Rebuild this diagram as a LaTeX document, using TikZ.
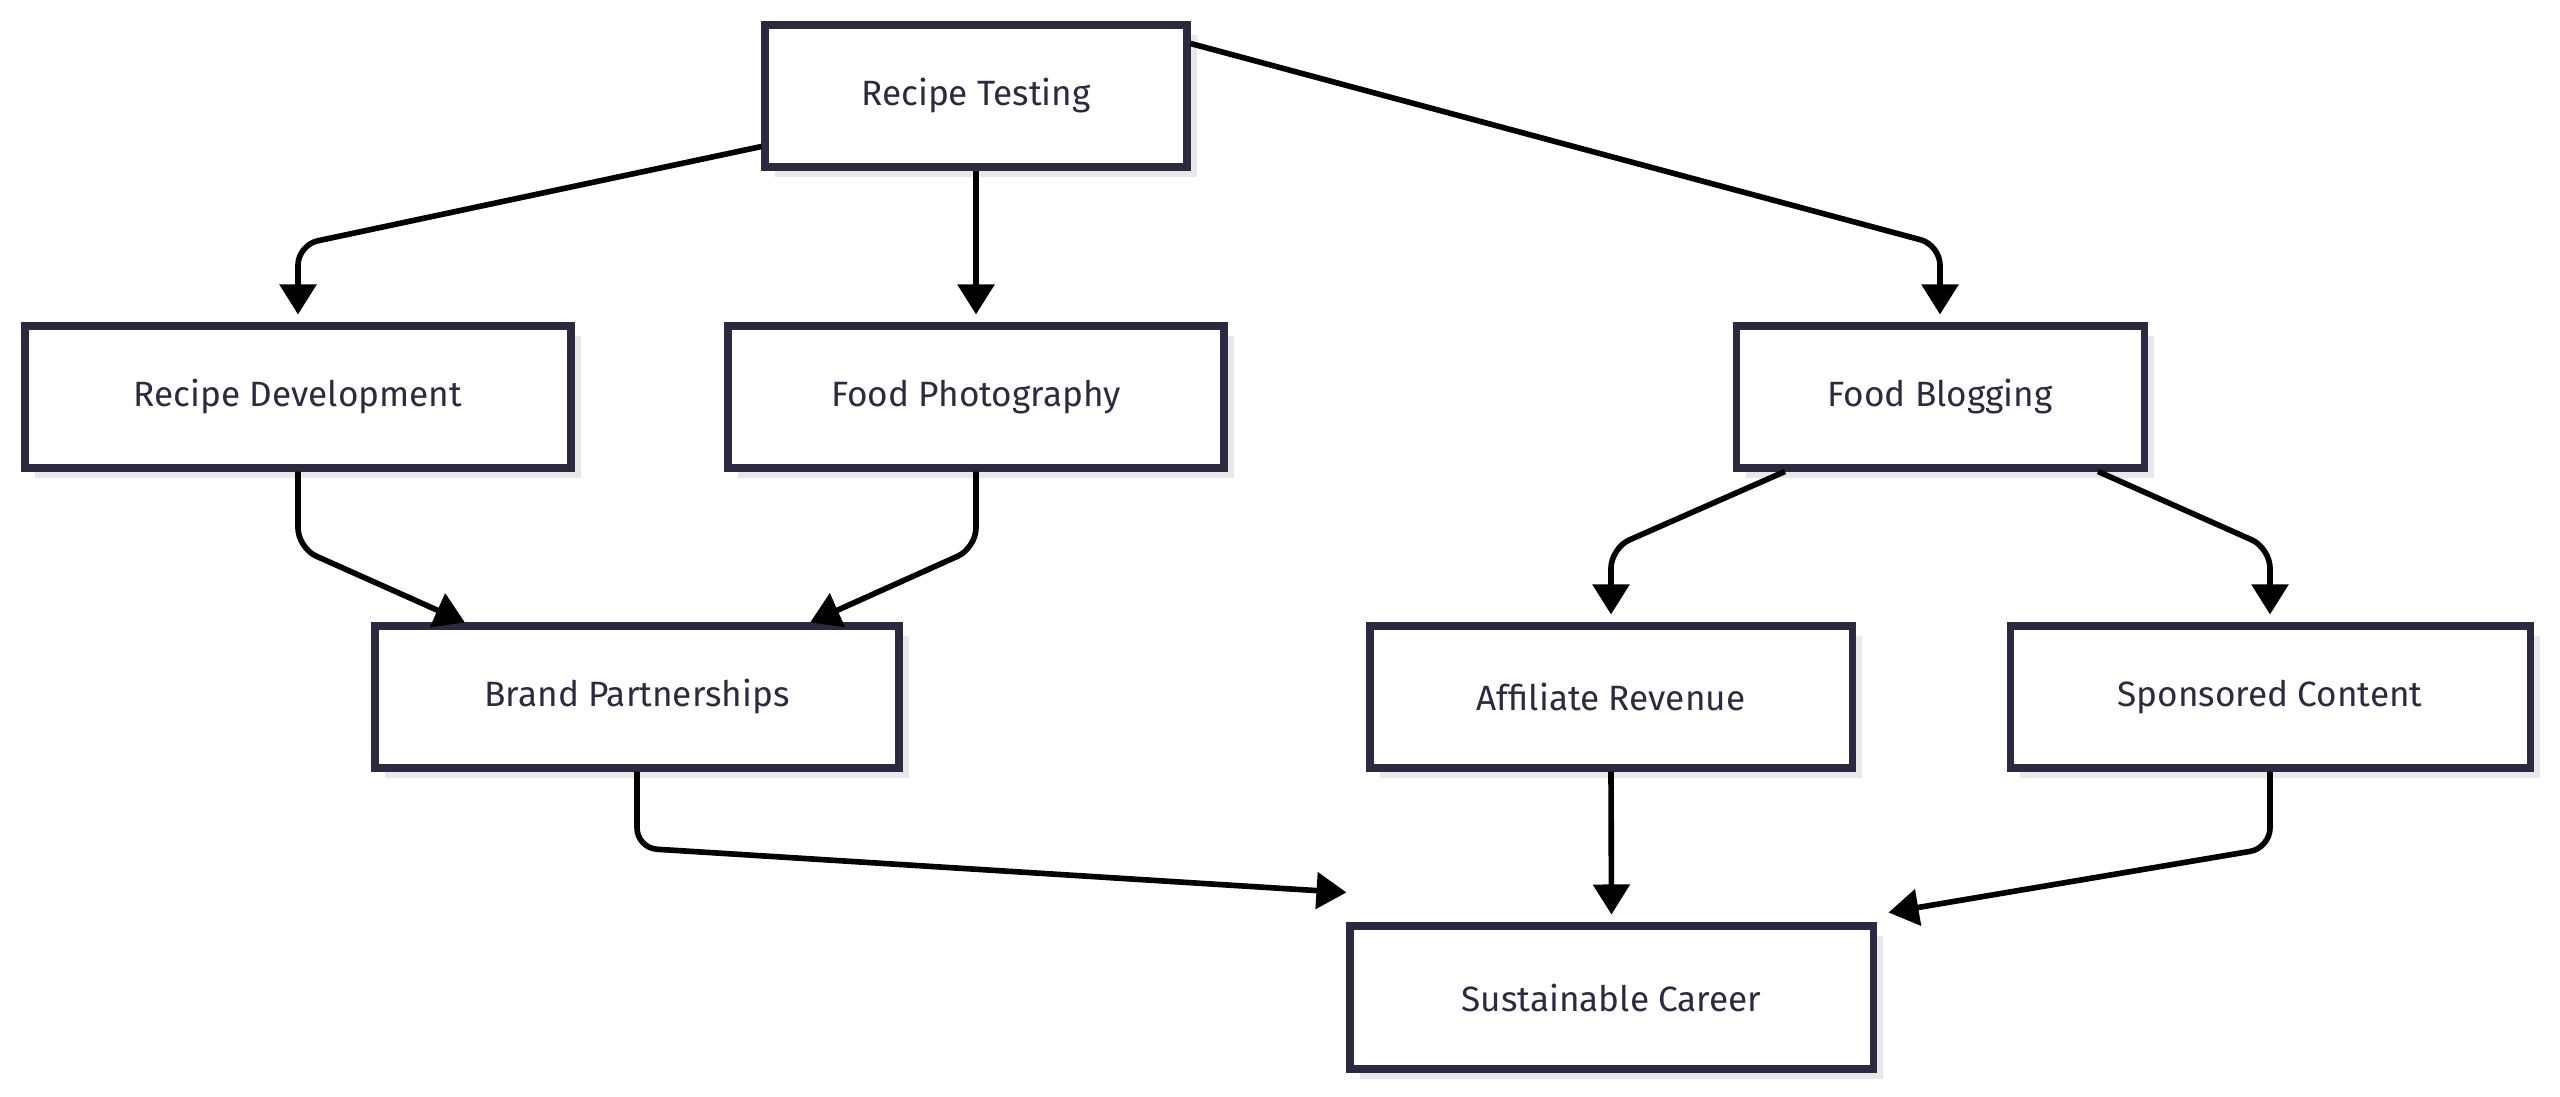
\documentclass[tikz,border=0pt]{standalone}
\usepackage{fontspec}
\setmainfont{Fira Sans}
\usetikzlibrary{arrows.meta}
\definecolor{bord}{HTML}{2B2A40}
\definecolor{txt}{HTML}{2B2A40}
\definecolor{shad}{HTML}{E8E8EA}
\begin{document}
\begin{tikzpicture}[x=0.01cm,y=-0.01cm,
  box/.style={draw=bord,line width=2pt,fill=white,text=txt,font=\fontsize{10}{12}\selectfont,inner sep=0pt},
  conn/.style={line width=1.6pt,rounded corners=0.2cm,-{Triangle[length=0.3cm,width=0.36cm]}}]
\useasboundingbox (0,0) rectangle (2560,1097);
\newcommand{\bx}[6]{%
  \fill[shad] (#2+10,#3+10) rectangle (#4+10,#5+10);
  \node[box,minimum width={(#4-#2)*0.01cm},minimum height={(#5-#3)*0.01cm}] (#1) at ({(#2+#4)/2},{(#3+#5)/2}) {#6};}
\bx{rt}{765}{25}{1187}{167}{Recipe Testing}
\bx{rd}{25}{326}{571}{468}{Recipe Development}
\bx{fp}{728}{326}{1224}{468}{Food Photography}
\bx{fb}{1736}{326}{2144}{468}{Food Blogging}
\bx{bp}{375}{626}{899}{768}{Brand Partnerships}
\bx{ar}{1370}{626}{1852}{768}{Affiliate Revenue}
\bx{sc}{2010}{626}{2530}{768}{Sponsored Content}
\bx{su}{1350}{926}{1873}{1069}{Sustainable Career}
\coordinate (b1) at (298,245);
\coordinate (b3) at (1940,245);
\coordinate (b4) at (298,548);
\coordinate (b5) at (976,548);
\coordinate (b6) at (1611,548);
\coordinate (b7) at (2270,548);
\coordinate (b8) at (637,848);
\coordinate (b10) at (2270,848);
\draw[conn] ([yshift=0.24cm]rt.south west) -- (b1) -- ([yshift=0.08cm]rd.north);
\draw[conn] (rt.south) -- ([yshift=0.08cm]fp.north);
\draw[conn] ([yshift=-0.22cm]rt.north east) -- (b3) -- ([yshift=0.08cm]fb.north);
\draw[conn] (rd.south) -- (b4) -- ([xshift=-1.72cm]bp.north);
\draw[conn] (fp.south) -- (b5) -- ([xshift=1.73cm]bp.north);
\draw[conn] ([xshift=-1.55cm]fb.south) -- (b6) -- ([yshift=0.08cm]ar.north);
\draw[conn] ([xshift=1.58cm]fb.south) -- (b7) -- ([yshift=0.08cm]sc.north);
\draw[conn] (bp.south) -- (b8) -- ([yshift=0.3cm]su.north west);
\draw[conn] (ar.south) -- ([yshift=0.08cm]su.north);
\draw[conn] (sc.south) -- (b10) -- ([yshift=0.1cm,xshift=0.12cm]su.north east);
\end{tikzpicture}
\end{document}
